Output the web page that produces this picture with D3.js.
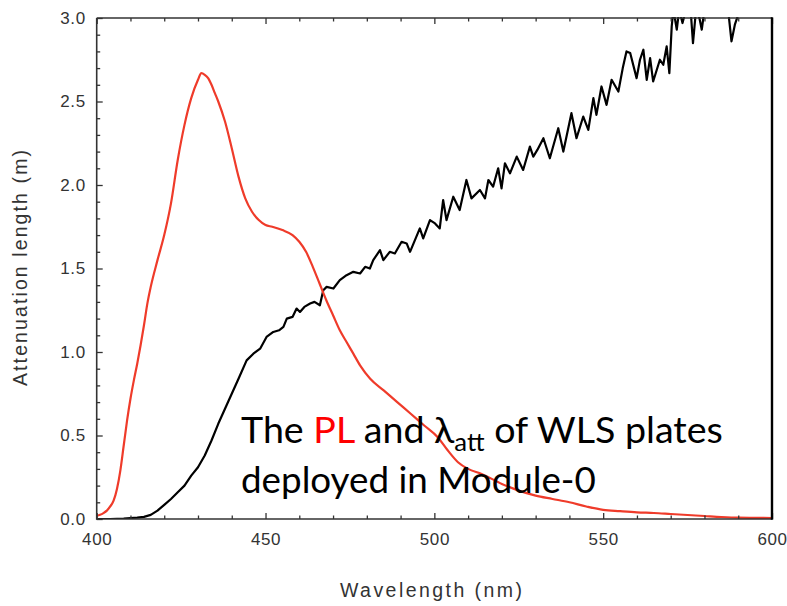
<!DOCTYPE html>
<html><head><meta charset="utf-8">
<script src="https://cdn.jsdelivr.net/npm/d3@7/dist/d3.min.js"></script>
<style>body{margin:0;background:#fff}svg{display:block}</style>
</head><body><svg id="c" width="787" height="606"></svg>
<script>
// PL emission spectrum (red)
const plWl  = [400,401,402,403,404,405,406,407,408,409,410,411,412,413,414,415,416,418,420,422,424,426,428,430,431,432,433,434,435,436,438,440,442,444,446,448,450,452,455,458,460,462,464,466,468,470,472,474,476,478,481,485,489,493,497,501,504,507,510,514,520,525,530,535,540,545,550,555,560,565,570,575,580,585,590,595,600];
const plVal = [0.02,0.025,0.035,0.05,0.075,0.11,0.18,0.29,0.44,0.59,0.72,0.83,0.93,1.04,1.16,1.29,1.39,1.55,1.70,1.89,2.15,2.36,2.52,2.63,2.67,2.66,2.64,2.60,2.55,2.50,2.38,2.22,2.05,1.92,1.84,1.79,1.76,1.75,1.73,1.70,1.66,1.60,1.51,1.41,1.31,1.22,1.13,1.06,0.99,0.92,0.84,0.77,0.70,0.63,0.56,0.49,0.41,0.34,0.30,0.27,0.21,0.17,0.14,0.12,0.10,0.075,0.055,0.047,0.040,0.036,0.030,0.024,0.018,0.012,0.008,0.007,0.006];
// Attenuation length (black)
const attWl  = [400,404,408,410,412,414,416,418,420,422,424,426,428,430,432,434,436,438,440,442,444.4,446.4,448.4,450.3,452.3,454,455.3,456.3,458,459.2,460.2,461.5,463.2,464.5,466.1,467.1,468.1,470.1,472.0,474.0,476.0,478.0,479.5,480.9,481.9,483.9,484.9,486.8,488.3,490.3,491.8,492.8,495.7,496.7,498.7,500.2,501.6,502.6,503.6,505.6,507.5,509.5,511.0,513.5,515.0,516.0,517.4,518.9,519.9,520.9,522.4,524.4,526.3,528.3,529.3,530.5,532.3,534.2,536.7,538.2,540.6,542.1,544.1,545.6,547.1,548.0,549.5,551.0,552.5,554.5,555.8,556.9,558,559.9,560.9,561.9,562.9,563.9,564.8,566.8,567.8,568.8,569.6,570.3,570.8,571.8,572.5,573.5,574.5,576.0,576.6,577.5,578.5,579.2,580,584,587,588.0,589,590];
const attVal = [0,0,0.002,0.006,0.008,0.013,0.025,0.05,0.085,0.12,0.16,0.20,0.26,0.31,0.38,0.47,0.57,0.66,0.75,0.84,0.95,0.99,1.02,1.09,1.12,1.13,1.15,1.20,1.21,1.26,1.24,1.27,1.29,1.30,1.28,1.37,1.39,1.38,1.43,1.46,1.48,1.47,1.51,1.50,1.55,1.61,1.55,1.60,1.59,1.66,1.65,1.60,1.74,1.68,1.79,1.77,1.74,1.91,1.79,1.93,1.85,2.03,1.92,1.97,1.92,2.03,1.99,2.10,1.98,2.13,2.07,2.17,2.09,2.23,2.17,2.21,2.28,2.16,2.34,2.20,2.43,2.28,2.41,2.33,2.52,2.42,2.59,2.48,2.63,2.56,2.70,2.80,2.79,2.64,2.75,2.81,2.63,2.76,2.62,2.75,2.72,2.83,2.67,2.95,3.05,2.93,3.05,2.97,3.05,3.02,2.85,3.05,3.0,2.93,3.05,3.1,3.05,2.86,2.96,3.02];
const xMajor = [400,450,500,550,600];
const yMajor = [0.0,0.5,1.0,1.5,2.0,2.5,3.0];

const svg = d3.select("#c");
const x = d3.scaleLinear().domain([400,600]).range([96.7,772]);
const y = d3.scaleLinear().domain([0,3]).range([519,18]);
const axisCol = "#333";
const tickFont = "'Liberation Sans', Arial, sans-serif";

svg.append("defs").append("clipPath").attr("id","plot")
  .append("rect").attr("x",x(400)).attr("y",y(3)-1).attr("width",x(600)-x(400)).attr("height",y(0)-y(3)+1);

const line = d3.line().x(d=>x(d[0])).y(d=>y(d[1]));
const g = svg.append("g").attr("clip-path","url(#plot)");
g.append("path").datum(attWl.map((w,i)=>[w,attVal[i]]))
  .attr("d",line).attr("fill","none").attr("stroke","#000").attr("stroke-width",2.2).attr("stroke-linejoin","round");
g.append("path").datum(plWl.map((w,i)=>[w,plVal[i]]))
  .attr("d",d3.line().x(d=>x(d[0])).y(d=>y(d[1])).curve(d3.curveMonotoneX)).attr("fill","none").attr("stroke","#ef3b2a").attr("stroke-width",2.2).attr("stroke-linejoin","round");

const xMinor = d3.range(410,600,10).filter(v=>v%50!==0);
const yMinor = d3.range(1,30).map(v=>v/10).filter(v=>Math.round(v*10)%5!==0);

function styleAxis(sel){
  sel.select(".domain").remove();
  sel.selectAll("line").attr("stroke",axisCol).attr("stroke-width",1.3);
  sel.selectAll("text").attr("font-family",tickFont).attr("font-size",17).attr("fill",axisCol).attr("letter-spacing",0.6);
}
// bottom
const gb = svg.append("g").attr("transform",`translate(0,${y(0)})`)
  .call(d3.axisBottom(x).tickValues(xMajor).tickFormat(d3.format("d")).tickSize(-6).tickPadding(14));
styleAxis(gb);
svg.append("g").attr("transform",`translate(0,${y(0)})`)
  .call(d3.axisBottom(x).tickValues(xMinor).tickFormat("").tickSize(-3.5)).call(styleAxis);
// top
svg.append("g").attr("transform",`translate(0,${y(3)})`)
  .call(d3.axisTop(x).tickValues(xMajor).tickFormat("").tickSize(-6)).call(styleAxis);
svg.append("g").attr("transform",`translate(0,${y(3)})`)
  .call(d3.axisTop(x).tickValues(xMinor).tickFormat("").tickSize(-3.5)).call(styleAxis);
// left
const gl = svg.append("g").attr("transform",`translate(${x(400)},0)`)
  .call(d3.axisLeft(y).tickValues(yMajor).tickFormat(d3.format(".1f")).tickSize(-6).tickPadding(11));
styleAxis(gl);
svg.append("g").attr("transform",`translate(${x(400)},0)`)
  .call(d3.axisLeft(y).tickValues(yMinor).tickFormat("").tickSize(-3.5)).call(styleAxis);

// frame lines
svg.append("line").attr("x1",x(400)).attr("x2",x(400)).attr("y1",y(3)).attr("y2",y(0)+0.7).attr("stroke",axisCol).attr("stroke-width",1.6);
svg.append("line").attr("x1",x(400)).attr("x2",x(600)).attr("y1",y(0)).attr("y2",y(0)).attr("stroke",axisCol).attr("stroke-width",1.6);
svg.append("line").attr("x1",x(400)).attr("x2",x(600)).attr("y1",y(3)).attr("y2",y(3)).attr("stroke",axisCol).attr("stroke-width",1.6);
svg.append("line").attr("x1",x(600)).attr("x2",x(600)).attr("y1",y(3)-0.8).attr("y2",y(0)+0.8).attr("stroke","#000").attr("stroke-width",2.4);

// axis titles
svg.append("text").attr("x",431).attr("y",597).attr("text-anchor","middle")
  .attr("font-family",tickFont).attr("font-size",19.5).attr("fill",axisCol)
  .attr("textLength",182).attr("lengthAdjust","spacing").text("Wavelength (nm)");
svg.append("text").attr("transform","translate(27,268) rotate(-90)").attr("text-anchor","middle")
  .attr("font-family",tickFont).attr("font-size",19.5).attr("fill",axisCol)
  .attr("textLength",236).attr("lengthAdjust","spacing").text("Attenuation length (m)");

// annotation
const annFont = "Lato, 'Open Sans', sans-serif";
const t1 = svg.append("text").attr("x",241).attr("y",443).attr("font-family",annFont).attr("font-size",35).attr("fill","#000");
t1.append("tspan").text("The ");
t1.append("tspan").attr("fill","#ff0000").text("PL");
t1.append("tspan").text(" and λ");
t1.append("tspan").attr("font-size",24).attr("dy",8).text("att");
t1.append("tspan").attr("dy",-8).text(" of WLS plates");
const t2 = svg.append("text").attr("x",241).attr("y",493).attr("font-family",annFont).attr("font-size",35).attr("fill","#000")
  .text("deployed in Module-0");
// fit widths to reference
function fit(t,w){const L=t.node().getComputedTextLength();const fs=+t.attr("font-size");t.attr("font-size",fs*w/L);}
fit(t2,355);
const L1=t1.node().getComputedTextLength(); const s=482/L1;
t1.attr("font-size",35*s); t1.selectAll("tspan").filter(function(){return d3.select(this).attr("font-size");}).attr("font-size",24*s);
</script></body></html>
